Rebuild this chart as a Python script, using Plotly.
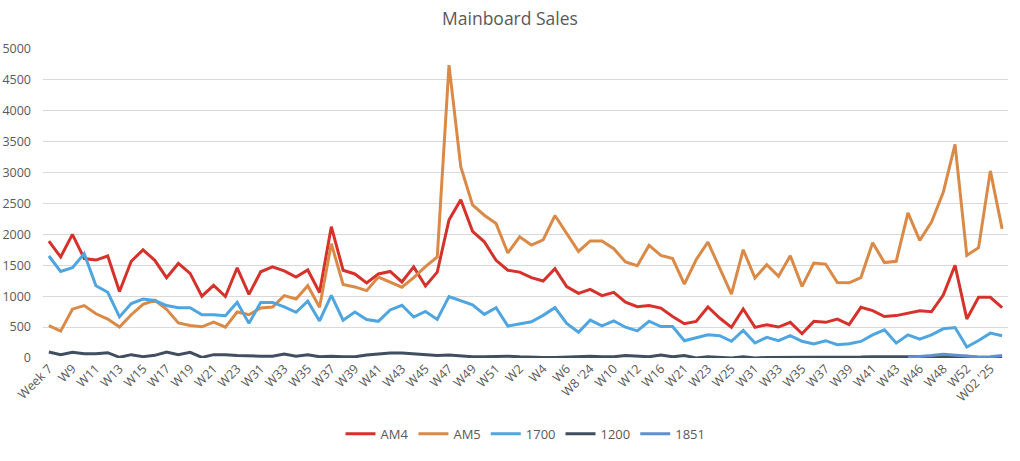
import plotly.graph_objects as go

weeks = ["Week 7", "W8", "W9", "W10", "W11", "W12", "W13", "W14", "W15", "W16",
         "W17", "W18", "W19", "W20", "W21", "W22", "W23", "W30", "W31", "W32",
         "W33", "W34", "W35", "W36", "W37", "W38", "W39", "W40", "W41", "W42",
         "W43", "W44", "W45", "W46", "W47", "W48", "W49", "W50", "W51", "W52",
         "W2", "W3", "W4", "W5", "W6", "W7", "W8 '24", "W9", "W10", "W11",
         "W12", "W15", "W16", "W20", "W21", "W22", "W23", "W24", "W25", "W30",
         "W31", "W32", "W33", "W34", "W35", "W36", "W37", "W38", "W39", "W40",
         "W41", "W42", "W43", "W45", "W46", "W47", "W48", "W51", "W52", "W01 '25",
         "W02 '25", "W03 '25"]

am4 = [1890, 1635, 2000, 1610, 1585, 1650, 1075, 1565, 1750, 1580,
       1300, 1530, 1370, 1000, 1175, 995, 1460, 1030, 1395, 1475,
       1410, 1310, 1425, 1060, 2125, 1420, 1360, 1215, 1360, 1400,
       1230, 1475, 1165, 1390, 2235, 2560, 2050, 1880, 1580, 1420,
       1390, 1300, 1245, 1445, 1155, 1045, 1110, 1010, 1063, 905,
       830, 848, 808, 672, 555, 593, 825, 647, 496, 792,
       496, 539, 501, 577, 393, 593, 577, 630, 540, 820,
       766, 670, 686, 723, 766, 750, 1018, 1500, 632, 981,
       981, 815]

am5 = [525, 435, 790, 848, 715, 630, 500, 700, 868, 935,
       788, 568, 525, 505, 580, 500, 745, 700, 810, 825,
       1010, 955, 1170, 820, 1850, 1190, 1150, 1090, 1310, 1230,
       1145, 1300, 1480, 1635, 4740, 3095, 2478, 2310, 2175, 1700,
       1960, 1828, 1910, 2305, 2025, 1725, 1895, 1895, 1768, 1553,
       1494, 1822, 1661, 1610, 1195, 1590, 1876, 1455, 1035, 1752,
       1294, 1509, 1321, 1655, 1159, 1536, 1520, 1220, 1216, 1302,
       1865, 1544, 1565, 2348, 1903, 2198, 2680, 3457, 1661, 1785,
       3028, 2090]

s1700 = [1650, 1400, 1460, 1688, 1170, 1063, 665, 880, 955, 930,
         848, 812, 812, 700, 700, 685, 900, 560, 900, 900,
         828, 740, 920, 600, 1015, 612, 745, 622, 593, 778,
         853, 663, 754, 625, 993, 926, 862, 706, 813, 518,
         555, 585, 690, 815, 560, 417, 613, 520, 600, 498,
         438, 595, 508, 508, 280, 334, 377, 361, 270, 447,
         243, 334, 280, 361, 270, 226, 280, 215, 230, 268,
         375, 456, 241, 375, 305, 375, 472, 493, 177, 284,
         402, 359]

s1200 = [97, 54, 92, 70, 70, 86, 11, 54, 22, 43,
         97, 54, 92, 10, 54, 54, 40, 30, 30, 30,
         65, 30, 54, 20, 30, 20, 20, 50, 70, 80,
         80, 70, 50, 40, 50, 30, 20, 20, 30, 30,
         20, 10, 10, 10, 20, 20, 30, 20, 20, 40,
         30, 20, 50, 20, 40, 0, 20, 10, 0, 20,
         0, 10, 10, 5, 5, 10, 5, 5, 10, 15,
         20, 20, 10, 10, 10, 20, 20, 20, 30, 10,
         5, 10]

s1851 = [None] * 73 + [10, 20, 40, 60, 45, 30, 15, 20, 40]

series = [
    ("AM4", am4, "#D4322A"),
    ("AM5", am5, "#DA8947"),
    ("1700", s1700, "#4FA5DF"),
    ("1200", s1200, "#404E60"),
    ("1851", s1851, "#5F8FCF"),
]

x = list(range(len(weeks)))

fig = go.Figure()
for name, vals, color in series:
    fig.add_trace(go.Scatter(
        x=x, y=vals, name=name, mode="lines",
        line=dict(color=color, width=3),
        connectgaps=False,
    ))

tick_idx = list(range(0, len(weeks), 2))

fig.update_layout(
    width=1020, height=461,
    margin=dict(l=43, r=12, t=49, b=101),
    paper_bgcolor="white", plot_bgcolor="white",
    font=dict(family="Open Sans, Noto Sans, sans-serif", size=12, color="#595959"),
    title=dict(text="Mainboard Sales", x=0.5, xanchor="center", y=0.958, yanchor="middle",
               font=dict(size=17.5, color="#595959")),
    showlegend=True,
    legend=dict(orientation="h", x=0.5, xanchor="center", y=-0.245, yanchor="middle",
                font=dict(size=13, color="#595959"), itemwidth=30,
                traceorder="normal"),
    xaxis=dict(
        range=[-0.5, len(weeks) - 0.5],
        tickmode="array",
        tickvals=tick_idx,
        ticktext=[weeks[i] for i in tick_idx],
        tickangle=-45,
        automargin=False,
        showgrid=False, zeroline=False, showline=False,
        ticks="", tickfont=dict(size=12.5, color="#595959"),
    ),
    yaxis=dict(
        range=[0, 5000],
        tickvals=[0, 500, 1000, 1500, 2000, 2500, 3000, 3500, 4000, 4500, 5000],
        automargin=False,
        showgrid=True, gridcolor="#D9D9D9", gridwidth=1.3,
        zeroline=False, showline=False, ticks="",
        ticklabelstandoff=11,
        tickfont=dict(size=12.5, color="#595959"),
    ),
)

fig.write_html("out.html")
